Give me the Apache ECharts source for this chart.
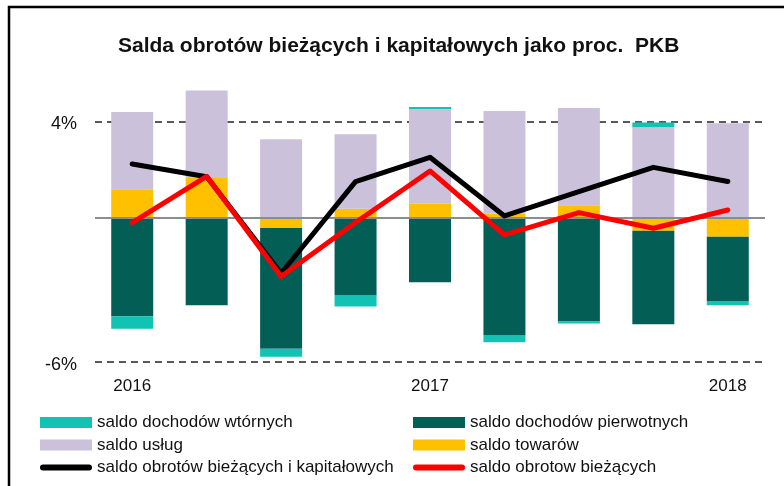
<!DOCTYPE html>
<html>
<head>
<meta charset="utf-8">
<script src="https://cdn.jsdelivr.net/npm/echarts@6/dist/echarts.min.js"></script>
<style>
  html, body { margin: 0; padding: 0; background: #fff; }
  #main { width: 784px; height: 486px; }
</style>
</head>
<body>
<div id="main"></div>
<script>
// kwartaly I 2016 - I 2018, etykiety tylko przy I kwartale
var categories = ['2016', '', '', '', '2017', '', '', '', '2018'];

// skladniki salda, % PKB
var saldoTowarow = [1.18, 1.65, -0.43, 0.37, 0.58, 0.17, 0.52, -0.54, -0.79];
var saldoUslug = [3.21, 3.63, 3.26, 3.10, 3.94, 4.26, 4.04, 3.76, 3.92];
var saldoPierwotnych = [-4.10, -3.64, -5.02, -3.21, -2.69, -4.88, -4.32, -3.89, -2.67];
var saldoWtornych = [-0.52, 0, -0.33, -0.48, 0.08, -0.30, -0.08, 0.19, -0.18];

// linie
var saldoBiezKap = [2.23, 1.70, -2.31, 1.50, 2.51, 0.07, 1.08, 2.09, 1.50];
var saldoBiez = [-0.21, 1.72, -2.45, -0.20, 1.94, -0.72, 0.21, -0.44, 0.32];

var yTicks = [4, -6];

var font = "'Liberation Sans', Arial, sans-serif";
var lineIcon = 'path://M0,0M52,11M3,2.5L49,2.5A3,3,0,0,1,49,8.5L3,8.5A3,3,0,0,1,3,2.5Z';

var chart = echarts.init(document.getElementById('main'));

function bar(name, values, color) {
    return {
        name: name,
        type: 'bar',
        stack: 'saldo',
        barWidth: 42,
        itemStyle: { color: color },
        data: values
    };
}

function line(name, values, color) {
    return {
        name: name,
        type: 'line',
        z: 5,
        symbol: 'none',
        lineStyle: { color: color, width: 5, join: 'round', cap: 'round' },
        itemStyle: { color: color },
        data: values
    };
}

var series = [
    bar('saldo towarów', saldoTowarow, '#FFC000'),
    bar('saldo usług', saldoUslug, '#CBC1DB'),
    bar('saldo dochodów pierwotnych', saldoPierwotnych, '#035E56'),
    bar('saldo dochodów wtórnych', saldoWtornych, '#12C2B2'),
    line('saldo obrotów bieżących i kapitałowych', saldoBiezKap, '#000000'),
    line('saldo obrotow bieżących', saldoBiez, '#FF0000')
];
// linia zera
series[3].markLine = {
    silent: true,
    symbol: 'none',
    label: { show: false },
    lineStyle: { color: '#8c8c8c', width: 2, type: 'solid' },
    data: [{ yAxis: 0 }]
};

var legendBase = {
    orient: 'vertical',
    top: 414,
    padding: 0,
    itemWidth: 52,
    itemHeight: 11,
    itemGap: 5.5,
    selectedMode: false,
    textStyle: { fontFamily: font, fontSize: 17, color: '#111' }
};

var option = {
    animation: false,
    title: {
        text: 'Salda obrotów bieżących i kapitałowych jako proc.  PKB',
        left: 118,
        top: 36,
        padding: 0,
        textStyle: { fontFamily: font, fontSize: 21, fontWeight: 'bold', color: '#111' }
    },
    graphic: [{
        type: 'rect',
        shape: { x: 9, y: 7, width: 800, height: 500 },
        style: { fill: 'none', stroke: '#000', lineWidth: 2.5 }
    }],
    grid: { left: 95, right: 19, top: 73.3, bottom: 486 - 362 },
    legend: [
        Object.assign({}, legendBase, {
            left: 40,
            data: [
                { name: 'saldo dochodów wtórnych', icon: 'rect' },
                { name: 'saldo usług', icon: 'rect' },
                { name: 'saldo obrotów bieżących i kapitałowych', icon: lineIcon }
            ]
        }),
        Object.assign({}, legendBase, {
            left: 413,
            data: [
                { name: 'saldo dochodów pierwotnych', icon: 'rect' },
                { name: 'saldo towarów', icon: 'rect' },
                { name: 'saldo obrotow bieżących', icon: lineIcon }
            ]
        })
    ],
    xAxis: {
        type: 'category',
        data: categories,
        axisLine: { show: false, onZero: false },
        axisTick: { show: false },
        axisLabel: { interval: 0, margin: 16, fontFamily: font, fontSize: 17, color: '#111' }
    },
    yAxis: {
        type: 'value',
        min: -6,
        max: 6,
        interval: 2,
        axisLine: { show: false },
        axisTick: { show: false },
        axisLabel: {
            margin: 18,
            fontFamily: font,
            fontSize: 18,
            color: '#111',
            verticalAlign: 'top',
            lineHeight: 6,
            formatter: function (v) { return yTicks.indexOf(v) >= 0 ? v + '%' : ''; }
        },
        splitLine: {
            lineStyle: {
                color: ['#595959', 'transparent', 'transparent', 'transparent', 'transparent', '#595959', 'transparent'],
                width: 2,
                type: [7, 5]
            }
        }
    },
    series: series
};

chart.setOption(option);
</script>
</body>
</html>
